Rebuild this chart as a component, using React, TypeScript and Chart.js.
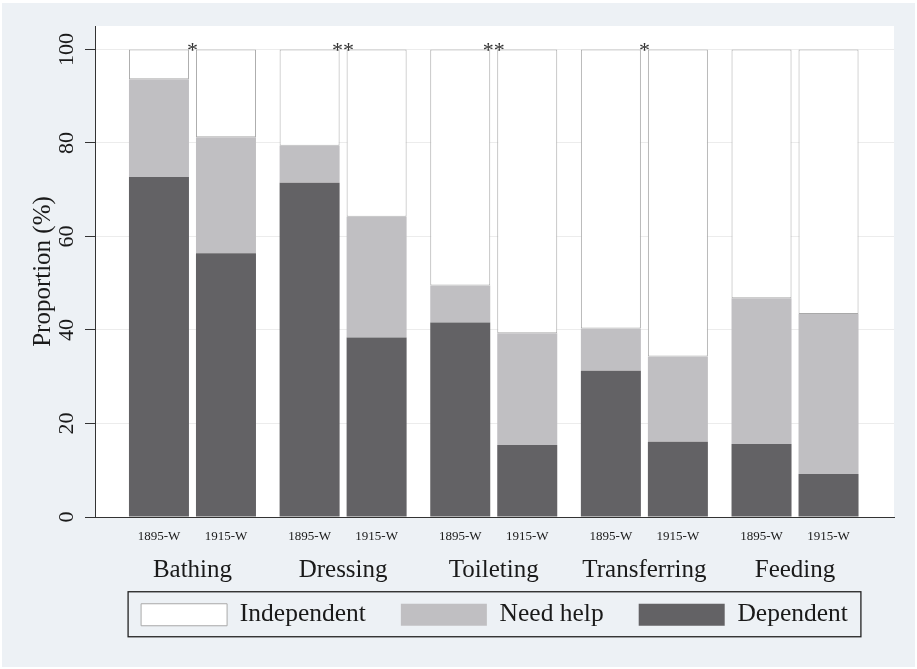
import React, { useEffect, useRef } from "react";
import { Chart, registerables } from "chart.js";

Chart.register(...registerables);

const categories = ["Bathing", "Dressing", "Toileting", "Transferring", "Feeding"];
const periods = ["1895-W", "1915-W"];
const significance = ["*", "**", "**", "*", ""];
const yTicks = [0, 20, 40, 60, 80, 100];

const dependent1895 = [72.7, 71.5, 41.6, 31.3, 15.6];
const needHelp1895 = [20.9, 7.9, 7.9, 9.0, 31.2];
const independent1895 = [6.4, 20.6, 50.5, 59.7, 53.2];

const dependent1915 = [56.4, 38.4, 15.4, 16.1, 9.2];
const needHelp1915 = [24.8, 25.8, 23.9, 18.2, 34.2];
const independent1915 = [18.8, 35.8, 60.7, 65.7, 56.6];

const FONT = "'Liberation Serif', 'Times New Roman', serif";
const TEXT = "#1a1a1a";
const DARK = "#636265";
const LIGHT = "#c0bfc2";
const WHITE = "#ffffff";
const OUTLINE = "#a9a9a9";
const BG = "#edf1f5";

const toXY = (arr: number[]) => arr.map((y, i) => ({ x: i, y }));

function makeSet(label: string, values: number[], stack: string, color: string, outlined: boolean) {
  return {
    label,
    data: toXY(values),
    stack,
    backgroundColor: color,
    borderColor: outlined ? OUTLINE : color,
    borderWidth: outlined ? 1 : 0,
    borderSkipped: false as const,
    categoryPercentage: 0.8896,
    barPercentage: 0.8955,
  };
}

const backgroundPlugin = {
  id: "stataBackground",
  beforeDraw(chart: any) {
    const { ctx, width, height, chartArea } = chart;
    ctx.save();
    ctx.fillStyle = "#ffffff";
    ctx.fillRect(0, 0, width, height);
    ctx.fillStyle = BG;
    ctx.fillRect(2, 3, width - 4, height - 5);
    ctx.fillStyle = "#ffffff";
    ctx.fillRect(chartArea.left, chartArea.top, chartArea.right - chartArea.left, chartArea.bottom - chartArea.top);
    ctx.restore();
  },
};

const labelsPlugin = {
  id: "barLabels",
  afterDatasetsDraw(chart: any) {
    const { ctx, chartArea } = chart;
    const xScale = chart.scales.x;
    const yScale = chart.scales.y;
    ctx.save();
    ctx.fillStyle = TEXT;
    ctx.textAlign = "center";
    ctx.textBaseline = "alphabetic";
    // period labels under each bar
    ctx.font = `13px ${FONT}`;
    [0, 3].forEach((dsIndex, p) => {
      const meta = chart.getDatasetMeta(dsIndex);
      meta.data.forEach((bar: any) => {
        ctx.fillText(periods[p], bar.x, chartArea.bottom + 22.5);
      });
    });
    // activity names under each group
    ctx.font = `25px ${FONT}`;
    categories.forEach((c, i) => {
      ctx.fillText(c, xScale.getPixelForValue(i), chartArea.bottom + 60);
    });
    // significance marks
    ctx.font = `22px ${FONT}`;
    ctx.fillStyle = "#333333";
    significance.forEach((s, i) => {
      if (!s) return;
      const x = xScale.getPixelForValue(i);
      const y = yScale.getPixelForValue(100) + 7.5;
      ctx.fillText(s, x, y);
    });
    ctx.restore();
  },
};

const legendFramePlugin = {
  id: "legendFrame",
  afterDraw(chart: any) {
    const legend = chart.legend;
    if (!legend || !legend.legendHitBoxes || !legend.legendHitBoxes.length) return;
    const hb = legend.legendHitBoxes;
    const first = hb[0];
    const last = hb[hb.length - 1];
    const cy = first.top + first.height / 2;
    const left = first.left - 13;
    const right = last.left + last.width + 13;
    const top = cy - 23;
    const bottom = cy + 22;
    const { ctx } = chart;
    ctx.save();
    ctx.strokeStyle = "#222222";
    ctx.lineWidth = 1.3;
    ctx.strokeRect(left, top, right - left, bottom - top);
    ctx.restore();
  },
};

export default function App() {
  const ref = useRef<HTMLCanvasElement>(null);

  useEffect(() => {
    const canvas = ref.current;
    if (!canvas) return;
    const datasets = [
      makeSet("Dependent", dependent1895, "1895", DARK, false),
      makeSet("Need help", needHelp1895, "1895", LIGHT, false),
      makeSet("Independent", independent1895, "1895", WHITE, true),
      makeSet("Dependent", dependent1915, "1915", DARK, false),
      makeSet("Need help", needHelp1915, "1915", LIGHT, false),
      makeSet("Independent", independent1915, "1915", WHITE, true),
    ];
    const chart = new Chart(canvas, {
      type: "bar",
      data: { datasets } as any,
      options: {
        animation: false,
        responsive: false,
        events: [],
        layout: { padding: { top: 26, left: 28, right: 23, bottom: 31.5 } },
        plugins: {
          tooltip: { enabled: false },
          legend: {
            display: true,
            position: "bottom",
            fullSize: false,
            reverse: true,
            labels: {
              filter: (item: any) => item.datasetIndex < 3,
              boxWidth: 86,
              boxHeight: 22,
              padding: 35,
              color: TEXT,
              font: { family: FONT, size: 25.5 },
            },
          },
        },
        scales: {
          x: {
            type: "linear",
            offset: false,
            min: -0.647,
            max: 4.657,
            grid: { display: false, drawTicks: false, tickLength: 0 },
            border: { display: true, color: "#333333", width: 1 },
            ticks: { display: false },
            afterBuildTicks: (s: any) => {
              s.ticks = categories.map((_, i) => ({ value: i }));
            },
            afterFit: (s: any) => {
              s.height = 50;
            },
          },
          y: {
            type: "linear",
            stacked: true,
            min: 0,
            max: 105,
            grid: { color: "#ececec", lineWidth: 1, drawTicks: true, tickLength: 10, tickColor: "#333333" },
            border: { display: true, color: "#333333", width: 1 },
            ticks: {
              padding: 1,
              minRotation: 90,
              maxRotation: 90,
              crossAlign: "center",
              color: TEXT,
              font: { family: FONT, size: 22 },
            },
            afterBuildTicks: (s: any) => {
              s.ticks = yTicks.map((v) => ({ value: v }));
            },
            afterFit: (s: any) => {
              s.width = 67;
            },
            title: {
              display: true,
              text: "Proportion (%)",
              color: TEXT,
              font: { family: FONT, size: 25, lineHeight: 1.2 },
              padding: { top: 0, bottom: 0 },
            },
          },
        },
      } as any,
      plugins: [backgroundPlugin, labelsPlugin, legendFramePlugin],
    });
    return () => chart.destroy();
  }, []);

  return (
    <div style={{ position: "fixed", left: 0, top: 0, width: 917, height: 669 }}>
      <canvas ref={ref} width={917} height={669} style={{ display: "block", width: 917, height: 669 }} />
    </div>
  );
}
